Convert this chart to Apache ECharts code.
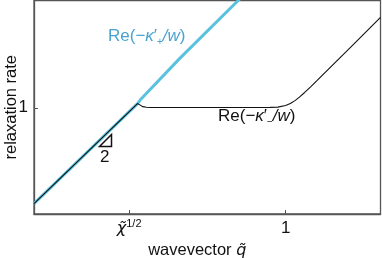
<!DOCTYPE html>
<html>
<head>
<meta charset="utf-8">
<script src="https://cdn.jsdelivr.net/npm/echarts@6/dist/echarts.min.js"></script>
<style>html,body{margin:0;padding:0;background:#fff}#c{width:382px;height:258px}</style>
</head>
<body>
<div id="c"></div>
<script>
// wavevector q~ (chi^{1/2} taken as 0.1), relaxation rate (plateau = 1)
const plusQ  = [0.02465, 0.1131, 0.1179, 0.2106, 0.4975, 0.6823];
const plusR  = [0.0586, 1.132, 1.266, 4.31, 23.9, 45.7];
const minusQ = [0.02465, 0.1131, 0.1150, 0.1170, 0.1223, 0.1290, 0.1355, 0.794, 0.891, 1.0, 1.072, 1.148, 1.230, 1.318, 1.445, 1.585, 1.995, 2.818, 4.04];
const minusR = [0.0586, 1.132, 1.115, 1.089, 1.033, 1.015, 1.009, 1.012, 1.019, 1.068, 1.133, 1.235, 1.378, 1.560, 1.860, 2.231, 3.531, 7.043, 14.47];
const xTickValues = [0.1, 1];
const xTickLabels = ['{a|χ̃}{b|1/2}', '{c|1}'];
const yTickValues = [1];
const yTickLabels = ['1'];
const xRange = [0.02465, 4.04];
const yRange = [0.0431, 23.9];

const font = '"Liberation Sans", Arial, Helvetica, sans-serif';
const mfont = '"DejaVu Sans", "Liberation Sans", sans-serif';
const zip = (a, b) => a.map((v, i) => [v, b[i]]);
const near = (v, t) => Math.abs(Math.log(v) - Math.log(t)) < 1e-6;

const chart = echarts.init(document.getElementById('c'), null, {renderer: 'canvas'});
chart.setOption({
  animation: false,
  textStyle: {fontFamily: font},
  grid: {left: 34, top: 0.5, width: 346.5, height: 213.5, containLabel: false, outerBoundsMode: 'none',
         show: true, borderColor: '#555', borderWidth: 1.3, backgroundColor: 'transparent'},
  xAxis: {
    type: 'log', logBase: 10, min: xRange[0], max: xRange[1],
    name: '{t|wavevector }{q|q̃}', nameLocation: 'middle', nameGap: 28, nameMoveOverlap: false,
    nameTextStyle: {rich: {t: {fontSize: 16.5, color: '#111', fontFamily: font}, q: {fontSize: 16, fontStyle: 'italic', color: '#111', fontFamily: mfont}}, padding: [0, 20, 0, 0]},
    axisLine: {show: true, lineStyle: {color: '#555', width: 1.3}},
    axisTick: {show: true, inside: true, length: 4, lineStyle: {color: '#555'}},
    splitLine: {show: false}, minorTick: {show: false},
    axisLabel: {
      margin: 4, color: '#111',
      formatter: v => { for (let i = 0; i < xTickValues.length; i++) if (near(v, xTickValues[i])) return xTickLabels[i]; return ''; },
      rich: {a: {fontSize: 16, lineHeight: 21, color: '#111', fontFamily: mfont, fontStyle: 'italic'},
             b: {fontSize: 11, lineHeight: 11, verticalAlign: 'top', color: '#111', fontFamily: font},
             c: {fontSize: 17, lineHeight: 21, color: '#111', fontFamily: font}}
    }
  },
  yAxis: {
    type: 'log', logBase: 100, min: yRange[0], max: yRange[1],
    name: 'relaxation rate', nameLocation: 'middle', nameGap: 14, nameRotate: 90, nameMoveOverlap: false,
    nameTextStyle: {fontSize: 16.5, color: '#111'},
    axisLine: {show: true, lineStyle: {color: '#555', width: 1.3}},
    axisTick: {show: true, inside: true, length: 4, lineStyle: {color: '#555'}},
    splitLine: {show: false}, minorTick: {show: false},
    axisLabel: {
      margin: 6, fontSize: 17, color: '#111',
      formatter: v => { for (let i = 0; i < yTickValues.length; i++) if (near(v, yTickValues[i])) return yTickLabels[i]; return ''; }
    }
  },
  series: [
    {type: 'line', name: 'plus', data: zip(plusQ, plusR), showSymbol: false, clip: true,
     lineStyle: {color: '#5ac2df', width: 3}, z: 2},
    {type: 'line', name: 'minus', data: zip(minusQ, minusR), showSymbol: false, clip: true,
     lineStyle: {color: '#111', width: 1.1}, z: 3}
  ],
  graphic: [
    {type: 'text', left: 108, top: 28, z: 10, style: {
      text: '{n|Re(−}{i|κ}{n|′}{s|+}{i|/w}{n|)}', fill: '#4aa3cf', font: '17px ' + font,
      rich: {n: {fontSize: 17, lineHeight: 21, fill: '#4aa3cf', fontFamily: font}, i: {fontSize: 17, lineHeight: 21, fontStyle: 'italic', fill: '#4aa3cf', fontFamily: font}, s: {fontSize: 10, lineHeight: 10, verticalAlign: 'bottom', fill: '#4aa3cf', fontFamily: font}}
    }},
    {type: 'text', left: 218, top: 108, z: 10, style: {
      text: '{n|Re(−}{i|κ}{n|′}{s|−}{i|/w}{n|)}', fill: '#111', font: '17px ' + font,
      rich: {n: {fontSize: 17, lineHeight: 21, fill: '#111', fontFamily: font}, i: {fontSize: 17, lineHeight: 21, fontStyle: 'italic', fill: '#111', fontFamily: font}, s: {fontSize: 10, lineHeight: 10, verticalAlign: 'bottom', fill: '#111', fontFamily: font}}
    }},
    {type: 'polygon', z: 10, shape: {points: [[99.5, 146.5], [111.5, 134.5], [111.5, 146.5]]}, style: {fill: 'none', stroke: '#111', lineWidth: 1.5}},
    {type: 'text', left: 100, top: 149, z: 10, style: {text: '2', fill: '#111', font: '17px ' + font}}
  ]
});
</script>
</body>
</html>
